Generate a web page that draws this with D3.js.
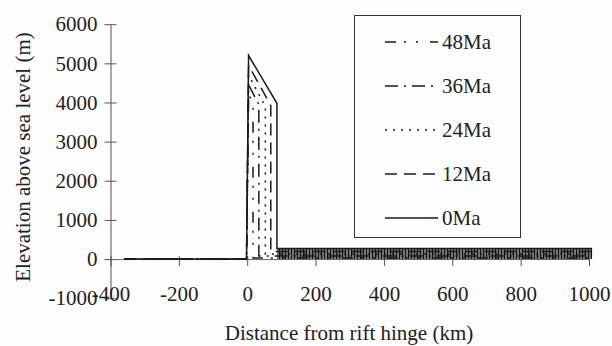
<!DOCTYPE html>
<html>
<head>
<meta charset="utf-8">
<script src="https://cdn.jsdelivr.net/npm/d3@7"></script>
<style>
  body { margin: 0; background: #fdfdfd; }
  svg text { font-family: "Liberation Serif", "DejaVu Serif", serif; fill: #222; }
</style>
</head>
<body>
<div id="chart"></div>
<script>
var svgWidth = 612;
var svgHeight = 346;

// Data (km, m)
var ages = ["48Ma", "36Ma", "24Ma", "12Ma", "0Ma"];
var profile0  = [[-360, 0], [-2, 0], [4, 5200], [87, 3980], [87, 270], [1009, 270]];
var profile12 = [[-360, 0], [-2, 0], [4, 4950], [69, 3920], [69, 190], [1009, 190]];
var profile24 = [[-360, 0], [-2, 0], [4, 4700], [53, 3900], [53, 130], [1009, 130]];
var profile36 = [[-360, 0], [-2, 0], [4, 4450], [34, 3950], [34, 80], [1009, 80]];
var profile48 = [[-360, 0], [-2, 0], [4, 4200], [17, 4000], [17, 30], [1009, 30]];
var hatchBand = [87, 1009];   // km span of the dense hatched strip
var hatchTop = 270;           // m
var xTicks = [-400, -200, 0, 200, 400, 600, 800, 1000];
var yTicks = [-1000, 0, 1000, 2000, 3000, 4000, 5000, 6000];

var profiles = {
  "0Ma": profile0, "12Ma": profile12, "24Ma": profile24,
  "36Ma": profile36, "48Ma": profile48
};
var dashes = {
  "48Ma": "11,8,2,10,2,12",
  "36Ma": "13,6,2,6",
  "24Ma": "2,6",
  "12Ma": "12,7",
  "0Ma": null
};

var svg = d3.select("#chart")
  .append("svg")
  .attr("width", svgWidth)
  .attr("height", svgHeight);

var x = d3.scaleLinear().domain([-400, 1000]).range([110.5, 589]);
var y = d3.scaleLinear().domain([-1000, 6000]).range([298.2, 24.2]);

// hatch pattern
var pat = svg.append("defs").append("pattern")
  .attr("id", "hatch")
  .attr("patternUnits", "userSpaceOnUse")
  .attr("width", 3)
  .attr("height", 10);
pat.append("rect").attr("width", 3).attr("height", 10).attr("fill", "#777");
pat.append("line")
  .attr("x1", 0.5).attr("x2", 0.5).attr("y1", 0).attr("y2", 10)
  .attr("stroke", "#111").attr("stroke-width", 1);

// y axis
var leftAxis = d3.axisLeft(y).tickValues(yTicks).tickFormat(d => String(d))
  .tickSize(6).tickSizeOuter(0).tickPadding(7);
var gy = svg.append("g")
  .attr("transform", `translate(${x(-400)},0)`)
  .call(leftAxis)
  .attr("font-family", null);
gy.select(".domain").attr("stroke", "#555");
gy.selectAll(".tick line").attr("x1", 6).attr("stroke", "#555");
gy.selectAll(".tick text").attr("font-size", "21px").attr("fill", "#222");

// x axis at y = 0
var bottomAxis = d3.axisBottom(x).tickValues(xTicks).tickFormat(d => String(d))
  .tickSize(7).tickSizeOuter(0).tickPadding(20);
var gx = svg.append("g")
  .attr("transform", `translate(0,${y(0)})`)
  .call(bottomAxis)
  .attr("font-family", null);
gx.select(".domain").attr("stroke", "#666");
gx.selectAll(".tick line").attr("y1", -3).attr("stroke", "#555");
gx.selectAll(".tick text").attr("font-size", "21px").attr("fill", "#222");

// hatched strip
svg.append("rect")
  .attr("x", x(hatchBand[0]))
  .attr("y", y(hatchTop))
  .attr("width", x(hatchBand[1]) - x(hatchBand[0]))
  .attr("height", y(0) - y(hatchTop))
  .attr("fill", "url(#hatch)");

var line = d3.line().x(d => x(d[0])).y(d => y(d[1]));

svg.selectAll(".profile")
  .data(ages)
  .enter()
  .append("path")
  .attr("class", "profile")
  .attr("d", d => line(profiles[d]))
  .attr("fill", "none")
  .attr("stroke", "#1a1a1a")
  .attr("stroke-width", 1.5)
  .attr("stroke-dasharray", d => dashes[d]);

// legend
svg.append("rect")
  .attr("x", 354.5).attr("y", 15.5)
  .attr("width", 166).attr("height", 222)
  .attr("fill", "none")
  .attr("stroke", "#333")
  .attr("stroke-width", 1);

var legendY = d3.scalePoint().domain(ages).range([42, 218]);

var legend = svg.selectAll(".legend")
  .data(ages)
  .enter()
  .append("g")
  .attr("class", "legend")
  .attr("transform", d => `translate(0,${legendY(d)})`);

legend.append("line")
  .attr("x1", 385).attr("x2", 438)
  .attr("stroke", "#1a1a1a")
  .attr("stroke-width", 1.5)
  .attr("stroke-dasharray", d => dashes[d]);

legend.append("text")
  .attr("x", 442)
  .attr("dy", "0.35em")
  .attr("font-size", "21px")
  .text(d => d);

// axis titles
svg.append("text")
  .attr("transform", "rotate(-90)")
  .attr("x", -157)
  .attr("y", 30)
  .attr("text-anchor", "middle")
  .attr("font-size", "21px")
  .text("Elevation above sea level (m)");

svg.append("text")
  .attr("x", 349)
  .attr("y", 340)
  .attr("text-anchor", "middle")
  .attr("font-size", "21px")
  .text("Distance from rift hinge (km)");
</script>
</body>
</html>
